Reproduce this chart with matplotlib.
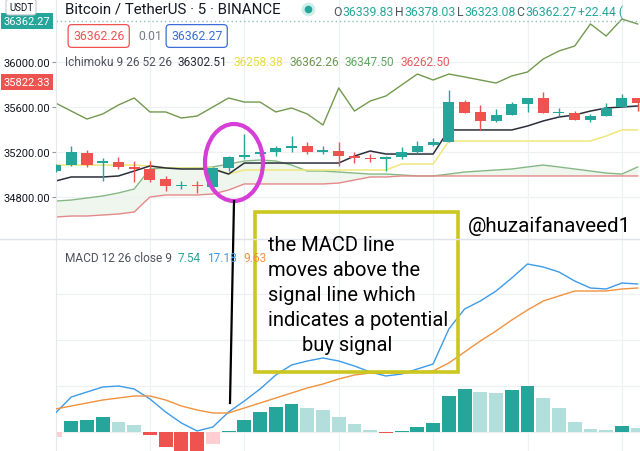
import matplotlib
matplotlib.use("Agg")
import matplotlib.pyplot as plt
import numpy as np
from matplotlib.patches import Ellipse, Rectangle
from matplotlib.lines import Line2D

plt.rcParams["font.family"] = ["Roboto", "DejaVu Sans"]

W, H = 640, 452

# --- BTCUSDT 5m candles ---------------------------------------------------
opens = [35031, 35084, 35191, 35102, 35111, 35067, 35049, 34960, 34898, 34907,
         34889, 35058, 35156, 35182, 35200, 35236, 35253, 35200, 35209, 35164,
         35147, 35138, 35156, 35200, 35262, 35289, 35644, 35556, 35476, 35529,
         35627, 35680, 35547, 35547, 35484, 35520, 35600, 35680]
highs = [35093, 35253, 35218, 35147, 35156, 35120, 35120, 34987, 34942, 34942,
         35067, 35164, 35360, 35209, 35253, 35342, 35289, 35253, 35289, 35200,
         35182, 35164, 35244, 35298, 35324, 35751, 35662, 35618, 35582, 35644,
         35680, 35733, 35591, 35564, 35538, 35636, 35716, 35680]
lows = [35022, 35076, 35067, 34942, 35049, 34933, 34933, 34853, 34871, 34836,
        34880, 35031, 35138, 35164, 35164, 35200, 35182, 35182, 35076, 35102,
        35111, 35031, 35138, 35191, 35253, 35289, 35547, 35396, 35467, 35529,
        35556, 35547, 35520, 35484, 35467, 35520, 35600, 35564]
closes = [35084, 35200, 35084, 35120, 35067, 35049, 34951, 34898, 34907, 34898,
          35058, 35156, 35173, 35200, 35236, 35253, 35200, 35218, 35164, 35147,
          35138, 35156, 35200, 35253, 35289, 35644, 35547, 35476, 35529, 35627,
          35680, 35547, 35556, 35484, 35520, 35591, 35680, 35636]

# --- Ichimoku 9 26 52 26 --------------------------------------------------
conversion = [34942, 34978, 34978, 34978, 34987, 35031, 35076, 35058, 35049, 35049,
              35049, 35004, 35102, 35102, 35102, 35102, 35102, 35102, 35102, 35164,
              35209, 35182, 35182, 35182, 35182, 35396, 35396, 35396, 35396, 35396,
              35431, 35476, 35511, 35529, 35564, 35591, 35600, 35609]
base = [35084, 35084, 35084, 35084, 35084, 35084, 35076, 35058, 35058, 35058,
        35058, 35004, 35040, 35040, 35040, 35040, 35040, 35040, 35040, 35040,
        35040, 35040, 35093, 35093, 35093, 35298, 35298, 35298, 35298, 35298,
        35298, 35298, 35298, 35298, 35298, 35342, 35396, 35396]
lagging = [35636, 35564, 35493, 35538, 35618, 35680, 35556, 35556, 35502, 35520,
           35600, 35680, 35644, 35644, 35556, 35591, 35538, 35440, 35769, 35564,
           35653, 35698, 35796, 35893, 35840, 35893, 35867, 35840, 35813, 35876,
           35911, 36027, 36098, 36142, 36338, 36231, 36382, 36338]
span_a = [34764, 34773, 34791, 34809, 34836, 34871, 35049, 35058, 35058, 35058,
          35067, 35093, 35120, 35129, 35120, 35084, 35031, 35031, 35022, 35013,
          35004, 35004, 34996, 34987, 34987, 35004, 35022, 35031, 35040, 35049,
          35067, 35084, 35067, 35049, 35031, 35013, 35004, 35067]
span_b = [34622, 34631, 34631, 34640, 34649, 34667, 34800, 34818, 34818, 34818,
          34827, 34862, 34916, 34916, 34916, 34916, 34916, 34916, 34924, 34951,
          34978, 34978, 34987, 34987, 34987, 34987, 34987, 34987, 34987, 34987,
          34987, 34987, 34987, 34987, 34987, 34987, 34987, 34987]

# --- MACD 12 26 close 9 ---------------------------------------------------
macd = [9.5, 17.5, 20, 22.5, 23, 21.5, 16.5, 10, 4.5, 0.5,
        2.5, 10, 15.5, 21.5, 28.5, 33.5, 35.5, 37, 35.5, 33,
        30, 28, 29, 31.5, 34, 51.5, 61.5, 65.5, 70.5, 77,
        84, 82.5, 80, 75.5, 72, 71.5, 74.5, 74]
signal = [11.5, 13, 14.5, 16, 17, 18, 18, 16, 13, 11,
          9.5, 9.5, 12, 14.5, 17, 19.5, 22, 24, 26.5, 28.5,
          29.5, 29.5, 29.5, 30, 30.5, 34.5, 40, 45.5, 50.5, 56,
          61, 65.5, 68, 70.5, 70.5, 70.5, 71.5, 72]
hist = [-2.5, 5.5, 6, 7.5, 5, 3.5, -1.5, -7.5, -10, -11,
        -6, 0.75, 6, 10, 12.5, 14, 12, 11, 7.5, 4,
        1.25, -0.5, 0.5, 2.5, 4.5, 18, 21.5, 20, 19.5, 21,
        23, 17, 12, 5, 1.5, 1, 3, 2]

price_ticks = [34800, 35200, 35600, 36000]
last_price = 36362.27
low_label = 35822.33

TEAL, RED = "#26a69a", "#ef5350"
DARK, GREY = "#131722", "#50535e"


def fx(x):
    return x / W


def fy(y):
    return 1 - y / H


fig = plt.figure(figsize=(6.4, 4.52), dpi=100)
ax = fig.add_axes([fx(56), fy(240), 584 / W, 240 / H])
axm = fig.add_axes([fx(56), 0, 584 / W, 212 / H])

idx = np.arange(len(closes))
o, hi, lo, c = (np.array(a, float) for a in (opens, highs, lows, closes))
col = np.where(c >= o, TEAL, RED)

# --- price pane -----------------------------------------------------------
ax.fill_between(idx, span_a, span_b, color="#43a047", alpha=0.09, lw=0, zorder=1)
ax.plot(idx, span_a, color="#86b884", lw=1.0, zorder=2)
ax.plot(idx, span_b, color="#e58a8a", lw=1.0, zorder=2)
ax.plot(idx, lagging, color="#73994f", lw=1.0, zorder=2)
ax.plot(idx, base, color="#f0e77c", lw=1.1, zorder=2)
ax.plot(idx, conversion, color="#2a2e39", lw=1.1, zorder=2)
ax.vlines(idx, lo, hi, colors=col, lw=1.0, zorder=3)
ax.bar(idx, np.maximum(np.abs(c - o), 9), bottom=np.minimum(o, c), width=0.7,
       color=col, zorder=4)
ax.axhline(last_price, color="#8fbfb9", lw=1.0, ls=(0, (1, 2)), zorder=2)

ax.set_xlim(0.03, 37.15)
ax.set_ylim(34426.7, 36560)
ax.set_yticks(price_ticks)
ax.set_yticklabels([f"{t:.2f}" for t in price_ticks])
ax.set_xticks([6, 12, 18, 24, 30, 36])
ax.grid(True, color="#eef0f3", lw=0.9, zorder=0)
ax.tick_params(axis="x", length=0, labelbottom=False)
ax.tick_params(axis="y", length=3, width=0.8, color="#9598a1", labelsize=8,
               labelcolor=DARK, pad=1.5)

# --- MACD pane ------------------------------------------------------------
hv = np.array(hist)
prev = np.concatenate([[hv[0] - 1], hv[:-1]])
hcol = np.where(hv >= 0, np.where(hv >= prev, TEAL, "#b2dfdb"),
                np.where(hv < prev, RED, "#ffcdd2"))
axm.bar(idx, hv, width=0.88, color=hcol, zorder=2)
axm.plot(idx, macd, color="#3d9be9", lw=1.0, zorder=3)
axm.plot(idx, signal, color="#f0923e", lw=1.0, zorder=3)
axm.set_xlim(0.03, 37.15)
axm.set_ylim(-9.5, 96.5)
axm.set_xticks([6, 12, 18, 24, 30, 36])
axm.set_yticks([0, 23, 46, 69])
axm.grid(True, color="#eef0f3", lw=0.9, zorder=0)
axm.tick_params(length=0, labelbottom=False, labelleft=False)

for a in (ax, axm):
    for s in ("top", "right", "bottom"):
        a.spines[s].set_visible(False)
    a.spines["left"].set_color("#e6e8ec")

fig.add_artist(Line2D([0, 1], [fy(240), fy(240)], transform=fig.transFigure,
                      color="#e0e3eb", lw=1.0))

# --- scale labels ---------------------------------------------------------
fig.text(fx(21), fy(8), "USDT", ha="center", va="center", fontsize=7, color=DARK,
         bbox=dict(boxstyle="round,pad=0.3,rounding_size=0.3", fc="white",
                   ec="#c9cbd1", lw=0.8))
for p, bg in ((last_price, TEAL), (low_label, RED)):
    ax.text(-0.01, p, f"{p:.2f}", transform=ax.get_yaxis_transform(), ha="right",
            va="center", fontsize=8, color="white",
            bbox=dict(boxstyle="square,pad=0.25", fc=bg, ec="none"))

# --- legends --------------------------------------------------------------
rend = fig.canvas.get_renderer()


def chain(x, y, parts, size, gap):
    for s, color in parts:
        t = fig.text(fx(x), fy(y), s, fontsize=size, color=color, ha="left",
                     va="center")
        x = t.get_window_extent(renderer=rend).x1 + gap


fig.text(fx(65), fy(10), "Bitcoin / TetherUS · 5 · BINANCE", fontsize=10.8,
         color=DARK, va="center")
fig.add_artist(Line2D([fx(308)], [fy(10)], transform=fig.transFigure, marker="o",
                      ms=10, mfc="#cdeee9", mec="none"))
fig.add_artist(Line2D([fx(308)], [fy(10)], transform=fig.transFigure, marker="o",
                      ms=5.5, mfc=TEAL, mec="none"))
chain(333, 12, [("O", GREY), ("36339.83", TEAL), ("H", GREY), ("36378.03", TEAL),
                ("L", GREY), ("36323.08", TEAL), ("C", GREY), ("36362.27", TEAL),
                ("+22.44 (", TEAL)], 8.8, 1)

fig.text(fx(73), fy(37), "36362.26", fontsize=8.8, color=RED, va="center",
         bbox=dict(boxstyle="round,pad=0.4,rounding_size=0.3", fc="white", ec=RED,
                   lw=0.9))
fig.text(fx(138), fy(37), "0.01", fontsize=8.8, color="#787b86", va="center")
fig.text(fx(171), fy(37), "36362.27", fontsize=8.8, color="#3b6fd6", va="center",
         bbox=dict(boxstyle="round,pad=0.4,rounding_size=0.3", fc="white",
                   ec="#3b6fd6", lw=0.9))

chain(65, 63, [("Ichimoku 9 26 52 26", GREY), ("36302.51", "#2a2e39"),
               ("36258.38", "#e9dd3c"), ("36362.26", "#6e9950"),
               ("36347.50", "#5fa862"), ("36262.50", "#e35d5d")], 8.6, 6)
chain(65, 258, [("MACD 12 26 close 9", GREY), ("7.54", TEAL), ("17.18", "#3d9be9"),
                ("9.63", "#f0923e")], 8.6, 6)

# --- hand-drawn annotation ------------------------------------------------
fig.add_artist(Ellipse((fx(234), fy(163.5)), 58 / W, 77 / H,
                       transform=fig.transFigure, fill=False, ec="#d63ed8", lw=3))
fig.add_artist(Line2D([fx(234), fx(230)], [fy(202), fy(404)],
                      transform=fig.transFigure, color="black", lw=1.6))
fig.add_artist(Rectangle((fx(255), fy(373)), 203 / W, 160 / H,
                         transform=fig.transFigure, fill=False, ec="#cbc71f", lw=2.6))
note = ["the MACD line", "moves above the", "signal line which",
        "indicates a potential", "buy signal"]
for k, line in enumerate(note):
    fig.text(fx(302 if k == 4 else 268), fy(251 + 25 * k), line, fontsize=14.5,
             color="black", va="baseline")
fig.text(fx(468), fy(232), "@huzaifanaveed1", fontsize=14.8, color="black",
         va="baseline")

fig.savefig("out.png", dpi=100)
